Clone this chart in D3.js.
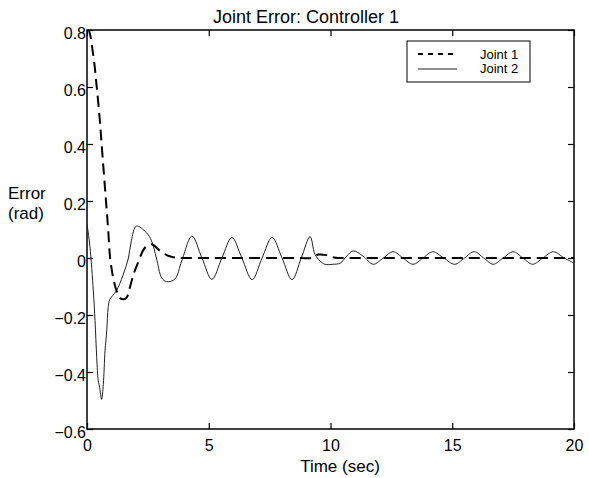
<!DOCTYPE html>
<html>
<head>
<meta charset="utf-8">
<script src="https://cdn.jsdelivr.net/npm/d3@7"></script>
<style>
  body { margin: 0; background: #fff; }
  text { font-family: "Liberation Sans", Arial, Helvetica, sans-serif; fill: #000; }
</style>
</head>
<body>
<div id="my_dataviz"></div>
<script>
// data
var joint1Time = [0, 0.06, 0.26, 0.4, 0.53, 0.6, 0.78, 0.87, 0.95, 1.1, 1.22, 1.35, 1.5, 1.62, 1.76, 1.9, 2.08, 2.38, 2.65, 3.0, 3.33, 3.7, 4.2, 5, 6, 7, 8, 8.8, 9.2, 9.5, 9.85, 10.2, 10.6, 12, 14, 16, 18, 20];
var joint1Error = [0.8, 0.8, 0.71, 0.6, 0.48, 0.4, 0.2, 0.1, 0.0, -0.08, -0.116, -0.14, -0.145, -0.14, -0.104, -0.06, -0.02, 0.036, 0.048, 0.025, 0.008, 0.001, 0, 0, 0, 0, 0, 0, 0, 0.012, 0.01, 0.001, 0, 0, 0, 0, 0, 0];

var joint2Time = [0, 0.12, 0.26, 0.33, 0.4, 0.46, 0.52, 0.6, 0.67, 0.74, 0.81, 0.87, 0.94, 1.2, 1.48, 1.7, 1.82, 2.03, 2.44, 2.65, 2.85, 3.07, 3.27, 3.61, 3.89,
  4.31, 4.72, 5.13, 5.54, 5.95, 6.36, 6.78, 7.19, 7.6, 8.01, 8.42, 8.8, 9.16, 9.36, 9.57, 9.77, 10.1, 10.4, 10.67, 10.94, 11.33, 11.76,
  12.17, 12.57, 12.98, 13.39, 13.8, 14.2, 14.65, 15.1, 15.5, 15.9, 16.29, 16.68, 17.09, 17.5, 17.9, 18.3, 18.72, 19.15, 19.6, 20];
var joint2Error = [0.12, 0.04, -0.116, -0.22, -0.35, -0.43, -0.455, -0.496, -0.443, -0.326, -0.256, -0.174, -0.145, -0.116, -0.06, 0.0, 0.06, 0.112, 0.089, 0.06, 0.0, -0.07, -0.083, -0.074, -0.01,
  0.077, 0, -0.075, 0, 0.072, 0, -0.076, 0, 0.072, 0, -0.076, 0, 0.075, 0.013, -0.01, -0.022, -0.022, -0.018, 0.007, 0.025, 0.007, -0.022,
  0, 0.022, 0, -0.022, 0, 0.022, 0, -0.022, 0, 0.022, 0, -0.022, 0, 0.022, 0, -0.022, 0, 0.022, 0, -0.018];

var xTicks = [0, 5, 10, 15, 20];
var yTicks = [-0.6, -0.4, -0.2, 0, 0.2, 0.4, 0.6, 0.8];
var seriesNames = ["Joint 1", "Joint 2"];

// set the dimensions and margins of the graph
var margin = {top: 30, right: 15, bottom: 49, left: 87},
    width = 589 - margin.left - margin.right,
    height = 478 - margin.top - margin.bottom;

var root = d3.select("#my_dataviz")
  .append("svg")
    .attr("width", 589)
    .attr("height", 478);

var svg = root.append("g")
    .attr("transform", "translate(" + margin.left + "," + margin.top + ")");

var x = d3.scaleLinear().domain([0, 20]).range([0, width]);
var y = d3.scaleLinear().domain([-0.6, 0.8]).range([height, 0]);

// axes, ticks pointing inward like matlab
var bottom = svg.append("g")
  .attr("transform", "translate(0," + height + ")")
  .call(d3.axisBottom(x).tickValues(xTicks).tickSize(-6).tickPadding(11).tickFormat(d3.format("d")));
bottom.selectAll("text").style("font-size", "16px");

var left = svg.append("g")
  .call(d3.axisLeft(y).tickValues(yTicks).tickSize(-6).tickPadding(1).tickFormat(function(d) { return d === 0 ? "0" : d3.format(".1f")(d); }));
left.selectAll("text").style("font-size", "16px").attr("dy", "0.55em");

svg.append("g")
  .call(d3.axisTop(x).tickValues(xTicks).tickSize(-6).tickFormat(""));
svg.append("g")
  .attr("transform", "translate(" + width + ",0)")
  .call(d3.axisRight(y).tickValues(yTicks).tickSize(-6).tickFormat(""));

svg.selectAll(".domain").remove();
svg.selectAll(".tick line").attr("stroke", "#000").attr("stroke-width", 1.2);

svg.append("rect")
  .attr("width", width)
  .attr("height", height)
  .attr("fill", "none")
  .attr("stroke", "#000")
  .attr("stroke-width", 1.5);

svg.append("clipPath").attr("id", "plotclip")
  .append("rect").attr("width", width).attr("height", height);

var line = d3.line()
  .x(function(d) { return x(d[0]); })
  .y(function(d) { return y(d[1]); })
  .curve(d3.curveCatmullRom.alpha(0.5));

var joint1 = d3.zip(joint1Time, joint1Error);
var joint2 = d3.zip(joint2Time, joint2Error);

svg.append("path")
  .datum(joint2)
  .attr("clip-path", "url(#plotclip)")
  .attr("fill", "none")
  .attr("stroke", "#222")
  .attr("stroke-width", 1)
  .attr("d", line);

svg.append("path")
  .datum(joint1)
  .attr("clip-path", "url(#plotclip)")
  .attr("fill", "none")
  .attr("stroke", "#000")
  .attr("stroke-width", 2)
  .attr("stroke-dasharray", "11,6")
  .attr("d", line);

// title and labels
root.append("text")
  .attr("x", 213).attr("y", 23)
  .style("font-size", "18px")
  .text("Joint Error: Controller 1");

root.append("text")
  .attr("x", 340).attr("y", 472)
  .attr("text-anchor", "middle")
  .style("font-size", "17px")
  .text("Time (sec)");

root.append("text")
  .attr("x", 8).attr("y", 199)
  .style("font-size", "17px")
  .text("Error");
root.append("text")
  .attr("x", 8).attr("y", 219)
  .style("font-size", "17px")
  .text("(rad)");

// legend
var legend = root.append("g");
legend.append("rect")
  .attr("x", 407).attr("y", 41)
  .attr("width", 123).attr("height", 41)
  .attr("fill", "#fff")
  .attr("stroke", "#000")
  .attr("stroke-width", 1);

legend.append("line")
  .attr("x1", 418).attr("x2", 457).attr("y1", 54).attr("y2", 54)
  .attr("stroke", "#000").attr("stroke-width", 2).attr("stroke-dasharray", "5,5");
legend.append("line")
  .attr("x1", 418).attr("x2", 457).attr("y1", 69).attr("y2", 69)
  .attr("stroke", "#222").attr("stroke-width", 1);

legend.selectAll("text.lab")
  .data(seriesNames)
  .enter()
  .append("text")
    .attr("class", "lab")
    .attr("x", 480)
    .attr("y", function(d, i) { return 59 + i * 14; })
    .style("font-size", "13px")
    .text(function(d) { return d; });
</script>
</body>
</html>
